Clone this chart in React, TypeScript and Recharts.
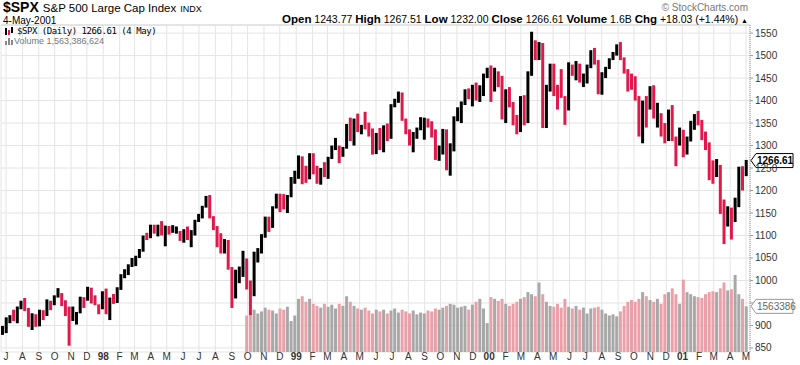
import React from "react";
import { ComposedChart, Bar, XAxis, YAxis, CartesianGrid, Cell, ReferenceLine } from "recharts";

// weekly bars, day 0 = 1 Jul 1997, first bar = week of 23-27 Jun 1997
const FIRST_DAY = -6;
const VOL_START = 66; // volume data begins week of 2 Oct 1998
const LAST_CLOSE = 1266.61;
const LAST_VOLUME = 1563.386624; // millions

const highs = [
  899, 918, 923, 935, 942, 955, 961, 939, 927, 925, 935, 934, 958, 955, 967, 983, 972, 956, 942, 942,
  930, 964, 963, 986, 984, 967, 947, 976,
  982, 962, 970, 985, 1014, 1025, 1036, 1050, 1055, 1070, 1100, 1106, 1124, 1124, 1124, 1132, 1122, 1121, 1123, 1120,
  1110, 1114, 1120, 1112, 1135, 1148, 1166, 1188, 1190, 1143, 1121, 1105, 1092, 1090, 1030, 1024, 1031, 1066, 1049, 1000,
  1064, 1072, 1103, 1142, 1142, 1165, 1193, 1193, 1192, 1190, 1230, 1244,
  1278, 1276, 1255, 1283, 1283, 1255, 1250, 1263, 1275, 1300, 1317, 1300, 1297, 1348, 1362, 1360, 1371, 1346, 1375, 1351,
  1338, 1328, 1339, 1345, 1349, 1392, 1404, 1420, 1418, 1360, 1336, 1330, 1340, 1363, 1362, 1360, 1354, 1336, 1300, 1337,
  1336, 1305, 1365, 1385, 1398, 1425, 1427, 1435, 1440, 1434, 1460, 1473,
  1478, 1473, 1465, 1455, 1425, 1430, 1397, 1368, 1410, 1412, 1465, 1553, 1534, 1530, 1528, 1435, 1482, 1482, 1435, 1470,
  1410, 1485, 1480, 1488, 1482, 1460, 1480, 1512, 1517, 1490, 1463, 1475, 1494, 1508, 1525, 1530, 1496, 1470, 1460, 1454,
  1410, 1400, 1410, 1432, 1434, 1395, 1372, 1350, 1380, 1390, 1320, 1340,
  1335, 1320, 1355, 1370, 1377, 1357, 1331, 1307, 1267, 1270, 1257, 1180, 1165, 1162, 1184, 1253, 1254, 1268,
];

const lows = [
  879, 883, 905, 910, 905, 936, 932, 897, 890, 897, 898, 912, 921, 934, 945, 962, 943, 921, 855, 910,
  902, 927, 939, 955, 949, 945, 925, 936,
  925, 912, 948, 950, 979, 1005, 1012, 1030, 1032, 1050, 1064, 1090, 1094, 1104, 1098, 1100, 1076, 1102, 1106, 1104,
  1088, 1084, 1090, 1074, 1100, 1130, 1138, 1162, 1138, 1112, 1074, 1060, 1060, 1024, 939, 960, 994, 1008, 980, 923,
  965, 1040, 1060, 1095, 1108, 1117, 1160, 1152, 1158, 1150, 1185, 1215,
  1226, 1214, 1217, 1225, 1236, 1215, 1213, 1230, 1226, 1270, 1290, 1261, 1275, 1293, 1310, 1300, 1330, 1325, 1336, 1320,
  1280, 1281, 1290, 1285, 1310, 1315, 1385, 1395, 1355, 1325, 1300, 1285, 1315, 1334, 1313, 1340, 1318, 1268, 1266, 1280,
  1245, 1233, 1287, 1354, 1350, 1390, 1403, 1387, 1400, 1397, 1410, 1450,
  1397, 1420, 1430, 1358, 1350, 1385, 1345, 1325, 1330, 1345, 1350, 1455, 1490, 1490, 1339, 1339, 1420, 1410, 1380, 1406,
  1346, 1378, 1455, 1445, 1440, 1430, 1438, 1472, 1480, 1414, 1413, 1450, 1470, 1490, 1500, 1490, 1460, 1420, 1424, 1400,
  1320, 1305, 1340, 1380, 1360, 1340, 1320, 1305, 1310, 1310, 1254, 1300,
  1274, 1280, 1309, 1335, 1345, 1312, 1290, 1223, 1215, 1230, 1148, 1081, 1120, 1091, 1130, 1163, 1200, 1232,
];

const closes = [
  887, 916, 916, 915, 938, 947, 933, 900, 923, 899, 929, 923, 950, 945, 965, 966, 944, 941, 914, 928,
  928, 963, 955, 983, 953, 946, 936, 975,
  927, 961, 957, 980, 1012, 1020, 1034, 1049, 1055, 1069, 1100, 1095, 1122, 1110, 1122, 1107, 1121, 1108, 1108, 1110,
  1091, 1113, 1098, 1100, 1133, 1146, 1164, 1186, 1140, 1120, 1089, 1062, 1081, 1027, 973, 1010, 1020, 1044, 1002, 984,
  1056, 1070, 1098, 1141, 1125, 1164, 1192, 1176, 1166, 1188, 1226, 1229,
  1275, 1243, 1225, 1280, 1239, 1230, 1239, 1238, 1275, 1294, 1299, 1283, 1293, 1348, 1319, 1356, 1335, 1345, 1338, 1330,
  1302, 1327, 1294, 1342, 1316, 1391, 1403, 1418, 1357, 1329, 1313, 1327, 1336, 1348, 1357, 1351, 1335, 1277, 1282, 1336,
  1247, 1301, 1362, 1370, 1397, 1422, 1416, 1433, 1417, 1421, 1458, 1469,
  1441, 1465, 1441, 1360, 1424, 1387, 1346, 1333, 1409, 1395, 1464, 1527, 1499, 1516, 1357, 1434, 1452, 1432, 1421, 1406,
  1378, 1477, 1457, 1464, 1441, 1455, 1478, 1509, 1481, 1419, 1462, 1471, 1491, 1506, 1520, 1494, 1465, 1449, 1436, 1408,
  1374, 1396, 1379, 1426, 1365, 1367, 1341, 1315, 1369, 1312, 1305, 1320,
  1298, 1318, 1342, 1355, 1349, 1315, 1301, 1245, 1234, 1264, 1150, 1139, 1160, 1128, 1183, 1242, 1234, 1266.61,
];

// average daily volume per week, millions
const volumes = [
  1250, 1390, 1450, 1320, 1390, 1520, 1450, 1420, 1320, 1490, 1450, 1550, 1060, 1250,
  1820, 1910, 1720, 1820, 1650, 1580, 1520, 1650, 1550, 1620, 1490, 1650, 1580, 1910, 1720, 1580, 1490, 1450, 1520, 1420,
  1320, 1450, 1390, 1450, 1320, 1420, 1490, 1350, 1450, 1390, 1320, 1420, 1290, 1350, 1320, 1420, 1390, 1490, 1450, 1520,
  1580, 1650, 1620, 1520, 1550, 1580, 1450, 1620, 1720, 1820, 1490, 990, 1880, 1820, 1750, 1820, 1650, 1580, 1650, 1720,
  1820, 1880, 2050, 1980, 1910, 2380, 1980, 1720, 1580, 1550, 1650, 1520, 1820, 1550, 1490, 1580, 1450, 1520, 1320, 1490,
  1520, 1550, 1450, 1320, 1250, 1290, 1220, 1390, 1580, 1720, 1780, 1720, 1820, 2050, 1910, 1780, 1720, 1820, 1650, 1980,
  2050, 2180, 1980, 1650, 2480, 2050, 1980, 1910, 1880, 1850, 1980, 2050, 2080, 2050, 2180, 2380, 2110, 2150, 2640, 1980,
  1820, 1563,
];

const priceTicks = [850, 900, 950, 1000, 1050, 1100, 1150, 1200, 1250, 1300, 1350, 1400, 1450, 1500, 1550];
const hiddenTickLabels = [950]; // covered by the volume tag in the original
const MONTH_LETTERS = ["J", "F", "M", "A", "M", "J", "J", "A", "S", "O", "N", "D"];

const DAY_MS = 86400000;
const ORIGIN = Date.UTC(1997, 6, 1);
const monthTicks: { day: number; label: string; year: boolean }[] = [];
for (let k = 0; k <= 46; k++) {
  const y = 1997 + Math.floor((6 + k) / 12);
  const m = (6 + k) % 12;
  monthTicks.push({
    day: (Date.UTC(y, m, 1) - ORIGIN) / DAY_MS,
    label: m === 0 ? String(y).slice(2) : MONTH_LETTERS[m],
    year: m === 0,
  });
}
const tickByDay = new Map(monthTicks.map((t) => [t.day, t]));
const yearDays = monthTicks.filter((t) => t.year).map((t) => t.day);

const rows = highs.map((h, i) => ({
  day: FIRST_DAY + 7 * i,
  hl: [lows[i], h],
  up: i === 0 || closes[i] >= closes[i - 1],
  vol: i >= VOL_START ? volumes[i - VOL_START] : null,
}));

const UP = "#000000";
const DOWN = "#e0194a";
const VOL_UP = "#a8a8a8";
const VOL_DOWN = "#eaa0a8";
const FONT = "'Liberation Sans', Arial, sans-serif";
const X_DOMAIN = [-9.5, 1407.5];

function MonthTick({ x, y, payload }: any) {
  const t = tickByDay.get(payload.value);
  if (!t) return null;
  return (
    <text x={x} y={y + 8} textAnchor="middle" fontSize={10} fontFamily={FONT} fontWeight={t.year ? 700 : 400} fill="#333">
      {t.label}
    </text>
  );
}

function PriceTick({ x, y, payload }: any) {
  if (hiddenTickLabels.includes(payload.value)) return null;
  return (
    <text x={x} y={y + 3.5} fontSize={10} fontFamily={FONT} fill="#333">
      {payload.value}
    </text>
  );
}

function ValueTag({ viewBox, text, stroke, color, bold }: any) {
  if (!viewBox) return null;
  const x = viewBox.x + viewBox.width + 1;
  const y = viewBox.y;
  return (
    <g>
      <path d={`M${x},${y} L${x + 5},${y - 7} H${x + 42} V${y + 7} H${x + 5} Z`} fill="#fff" stroke={stroke} />
      <text x={x + 6} y={y + 3.5} fontSize={10} fontFamily={FONT} fontWeight={bold ? 700 : 400} fill={color}>
        {text}
      </text>
    </g>
  );
}

const yearLines = (props: any) => {
  const s = props?.xAxis?.scale;
  return typeof s === "function" ? yearDays.map((d) => s(d)) : [];
};

const lbl = { fontSize: 11.5, fontWeight: 700 } as const;

export default function App() {
  return (
    <div style={{ position: "relative", width: 800, height: 365, fontFamily: FONT, background: "#fff", overflow: "hidden" }}>
      <style>{"body{margin:0}"}</style>
      <ComposedChart width={800} height={365} data={rows} margin={{ top: 25, right: 0, bottom: 0, left: 1 }}>
        <CartesianGrid xAxisId="p" yAxisId="p" stroke="#e4e4e4" />
        <CartesianGrid xAxisId="p" yAxisId="p" horizontal={false} stroke="#c9c9c9" verticalCoordinatesGenerator={yearLines} />
        <XAxis
          xAxisId="p"
          type="number"
          dataKey="day"
          domain={X_DOMAIN}
          ticks={monthTicks.map((t) => t.day)}
          interval={0}
          tick={<MonthTick />}
          tickSize={0}
          tickMargin={0}
          height={13}
          axisLine={false}
          tickLine={false}
          allowDataOverflow
        />
        <XAxis xAxisId="v" type="number" dataKey="day" domain={X_DOMAIN} hide allowDataOverflow />
        <YAxis
          yAxisId="p"
          orientation="right"
          domain={[841, 1568]}
          ticks={priceTicks}
          interval={0}
          width={50}
          tick={<PriceTick />}
          tickSize={3}
          tickMargin={2}
          axisLine={{ stroke: "#999", strokeDasharray: "1 1" }}
          tickLine={{ stroke: "#999" }}
          allowDataOverflow
        />
        <YAxis yAxisId="v" hide domain={[0, 11200]} allowDataOverflow />
        <ReferenceLine xAxisId="p" yAxisId="p" y={1568} stroke="#d8d8d8" />
        <Bar xAxisId="v" yAxisId="v" dataKey="vol" barSize={3} isAnimationActive={false}>
          {rows.map((r, i) => (
            <Cell key={i} fill={r.up ? VOL_UP : VOL_DOWN} />
          ))}
        </Bar>
        <Bar xAxisId="p" yAxisId="p" dataKey="hl" barSize={3} isAnimationActive={false}>
          {rows.map((r, i) => (
            <Cell key={i} fill={r.up ? UP : DOWN} />
          ))}
        </Bar>
        <ReferenceLine
          xAxisId="v"
          yAxisId="v"
          y={LAST_VOLUME}
          stroke="none"
          label={(p: any) => <ValueTag viewBox={p.viewBox} text="1563386" stroke="#999" color="#666" />}
        />
        <ReferenceLine
          xAxisId="p"
          yAxisId="p"
          y={LAST_CLOSE}
          stroke="none"
          label={(p: any) => <ValueTag viewBox={p.viewBox} text="1266.61" stroke="#000" color="#000" bold />}
        />
      </ComposedChart>

      <div style={{ position: "absolute", left: 3, top: 0, whiteSpace: "nowrap", lineHeight: "14px" }}>
        <span style={{ fontSize: 14, fontWeight: 700 }}>$SPX</span>
        <span style={{ fontSize: 11.5, marginLeft: 4 }}>S&amp;P 500 Large Cap Index</span>
        <span style={{ fontSize: 9, marginLeft: 4 }}>INDX</span>
      </div>
      <div style={{ position: "absolute", left: 3, top: 15, fontSize: 10, lineHeight: "11px" }}>4-May-2001</div>
      <div style={{ position: "absolute", right: 52, top: 2, fontSize: 10, color: "#777", lineHeight: "11px" }}>
        © StockCharts.com
      </div>
      <div style={{ position: "absolute", right: 52, top: 13, whiteSpace: "nowrap", lineHeight: "13px", fontSize: 10.5 }}>
        <span style={lbl}>Open</span> 1243.77 <span style={lbl}>High</span> 1267.51{" "}
        <span style={lbl}>Low</span> 1232.00 <span style={lbl}>Close</span> 1266.61{" "}
        <span style={lbl}>Volume</span> 1.6B <span style={lbl}>Chg</span> +18.03 (+1.44%){" "}
        <span style={{ fontSize: 7 }}>▲</span>
      </div>
      <div style={{ position: "absolute", left: 5, top: 26, whiteSpace: "nowrap", display: "flex", alignItems: "center" }}>
        <svg width={10} height={9}>
          <rect x={0} y={1} width={2} height={7} fill="#000" />
          <rect x={3} y={3} width={2} height={5} fill={DOWN} />
          <rect x={6} y={0} width={2} height={6} fill="#000" />
        </svg>
        <span style={{ fontFamily: "'DejaVu Sans Mono', monospace", fontSize: 9, letterSpacing: -0.45, marginLeft: 2, lineHeight: "10px" }}>
          $SPX (Daily) 1266.61 (4 May)
        </span>
      </div>
      <div style={{ position: "absolute", left: 5, top: 37, whiteSpace: "nowrap", display: "flex", alignItems: "center" }}>
        <svg width={8} height={7}>
          <rect x={0} y={3} width={2} height={4} fill="#888" />
          <rect x={3} y={0} width={2} height={7} fill="#888" />
          <rect x={6} y={2} width={2} height={5} fill="#888" />
        </svg>
        <span style={{ fontSize: 9, color: "#777", marginLeft: 1, lineHeight: "9px" }}>Volume 1,563,386,624</span>
      </div>
    </div>
  );
}
